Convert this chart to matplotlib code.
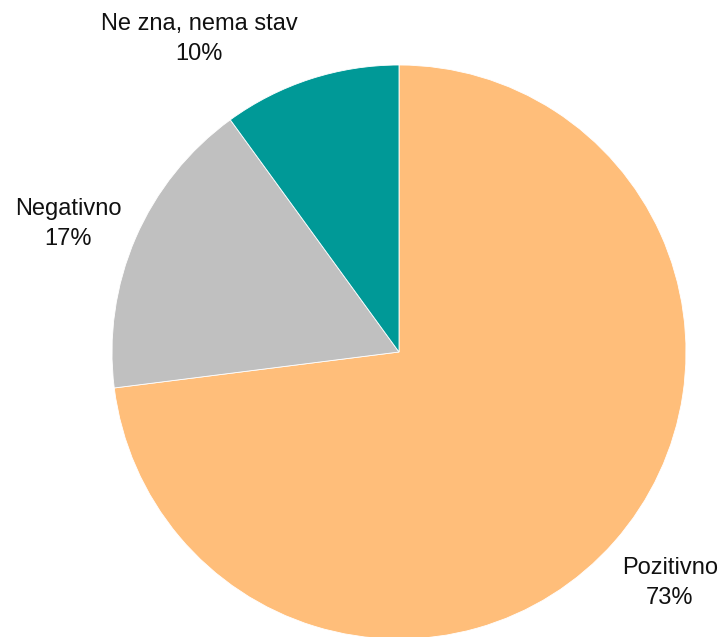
import matplotlib
matplotlib.use("Agg")
import matplotlib.pyplot as plt

plt.rcParams['font.family'] = ['Liberation Sans', 'DejaVu Sans']

# data
labels = ["Pozitivno", "Negativno", "Ne zna, nema stav"]
values = [73, 17, 10]
colors = ["#FFBE7A", "#C0C0C0", "#009997"]

# label anchor points (axes data units, pie radius = 1)
label_pos = [(0.944, -0.805), (-1.153, 0.446), (-0.697, 1.09)]

fig = plt.figure(figsize=(7.22, 6.37), dpi=100)
# pie centre at (399, 352) px from top-left, radius ~287 px
ax = fig.add_axes([112 / 722, -2 / 637, 574 / 722, 574 / 637])

ax.pie(values, colors=colors, startangle=90, counterclock=False,
       radius=1.0, wedgeprops=dict(edgecolor="white", linewidth=0.6))
ax.set_xlim(-1, 1)
ax.set_ylim(-1, 1)
ax.set_aspect("equal")
ax.axis("off")

for lab, val, (x, y) in zip(labels, values, label_pos):
    ax.text(x, y, f"{lab}\n{val}%", ha="center", va="center",
            fontsize=17, color="#111111", linespacing=1.5, clip_on=False)

fig.savefig("out.png", dpi=100)
